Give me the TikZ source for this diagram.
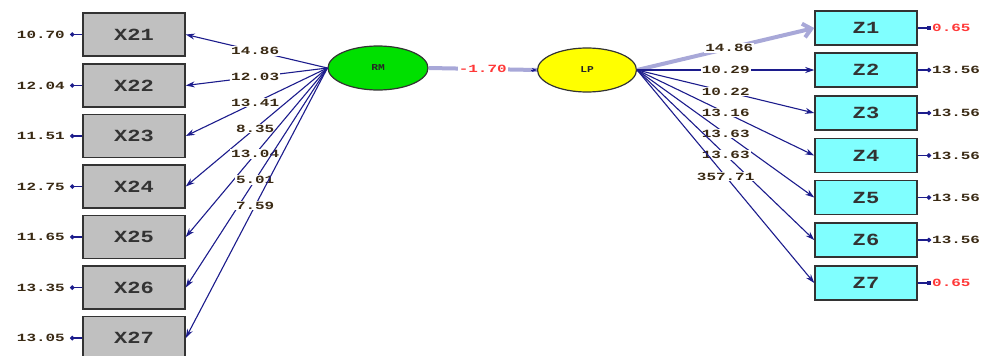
\documentclass[tikz,border=0pt]{standalone}
\usepackage{fontspec}
\usepackage{graphicx}
\setmonofont{Liberation Mono}
\usetikzlibrary{arrows.meta}
\definecolor{navy}{HTML}{1C1C8C}
\definecolor{pale}{HTML}{A8A8D8}
\definecolor{numc}{HTML}{3A2A14}
\definecolor{redc}{HTML}{FF3838}
\definecolor{xgray}{HTML}{C0C0C0}
\definecolor{zcyan}{HTML}{80FFFF}
\definecolor{rmgreen}{HTML}{00E000}
\definecolor{lpyellow}{HTML}{FFFF00}
\newcommand\nm[1]{\scalebox{1.45}[1]{\ttfamily\bfseries\fontsize{11}{11}\selectfont #1}}
\newcommand\bl[1]{\scalebox{1.3}[1]{\ttfamily\bfseries\fontsize{17}{17}\selectfont #1}}
\tikzset{
  xbox/.style={draw=black!80, line width=1.5pt, fill=xgray, minimum width=102pt, minimum height=43pt, inner sep=0pt, text=black!80},
  zbox/.style={draw=black!80, line width=1.5pt, fill=zcyan, minimum width=102pt, minimum height=34pt, inner sep=0pt, text=black!80},
  lat/.style={ellipse, draw=black!80, line width=1.2pt, minimum width=100pt, minimum height=44pt, inner sep=0pt, text=black!85},
  lab/.style={fill=white, inner sep=1pt, text=numc},
  pth/.style={draw=navy, line width=1.1pt, -{Stealth[length=9pt,width=6pt]}},
  err/.style={draw=navy, line width=1.2pt, {Circle[length=4.5pt]}-},
  errred/.style={draw=navy, line width=2.4pt, {Square[length=4.5pt]}-},
}
\usetikzlibrary{shapes.geometric}
\begin{document}
\begin{tikzpicture}[x=1pt,y=-1pt]
\useasboundingbox (0,0) rectangle (989,356);
\clip (0,0) rectangle (989,356);
% latent variables
\node[lat, fill=rmgreen] (RM) at (378,68) {\scalebox{1.25}[1]{\ttfamily\bfseries\fontsize{9}{9}\selectfont RM}};
\node[lat, fill=lpyellow, minimum width=99pt] (LP) at (587,70) {\scalebox{1.25}[1]{\ttfamily\bfseries\fontsize{9}{9}\selectfont LP}};
% X boxes
\foreach \i/\y/\e in {1/34.5/10.70, 2/85.5/12.04, 3/136/11.51, 4/186.5/12.75, 5/237/11.65, 6/287.5/13.35, 7/338/13.05} {
  \node[xbox] (X2\i) at (134,\y) {\bl{X2\i}};
  \coordinate (ex\i) at (70,\y);
  \node[lab, anchor=east] (el\i) at (66,\y) {\nm{\e}};
  \draw[err] (ex\i) -- (X2\i.west);
}
% Z boxes
\foreach \i/\y in {1/28, 2/70, 3/113, 4/155.5, 5/197.5, 6/240, 7/283} {
  \node[zbox] (Z\i) at (866,\y) {\bl{Z\i}};
  \coordinate (ez\i) at (931,\y);
}
\foreach \i in {2,...,6} {
  \node[lab, anchor=west] (zl\i) at (ez\i) {\nm{13.56}};
  \draw[err] (ez\i) -- (Z\i.east);
}
\foreach \i in {1,7} {
  \node[lab, anchor=west, text=redc] (zl\i) at (ez\i) {\nm{0.65}};
  \draw[errred] (ez\i) -- (Z\i.east);
}
% RM -> X paths
\foreach \i/\v in {1/14.86, 2/12.03, 3/13.41, 4/8.35, 5/13.04, 6/5.01, 7/7.59} {
  \draw[pth] (RM.west) -- node[lab, pos=0.51] {\nm{\v}} (X2\i.east);
}
% LP -> Z paths
\draw[draw=pale, line width=4pt, -{Straight Barb[length=8pt,width=14pt]}] (LP.east) -- node[lab, pos=0.52] {\nm{14.86}} (Z1.west);
\foreach \i/\v in {2/10.29, 3/10.22, 4/13.16, 5/13.63, 6/13.63, 7/357.71} {
  \draw[pth] (LP.east) -- node[lab, pos=0.5] {\nm{\v}} (Z\i.west);
}
% RM -> LP
\draw[draw=pale, line width=4pt] (RM.east) -- node[lab, text=redc] {\nm{-1.70}} (LP.west);
\draw[navy, line width=0.8pt, -{Stealth[length=5pt,width=4pt]}] ([xshift=-6pt]LP.west) -- (LP.west);
\end{tikzpicture}
\end{document}
